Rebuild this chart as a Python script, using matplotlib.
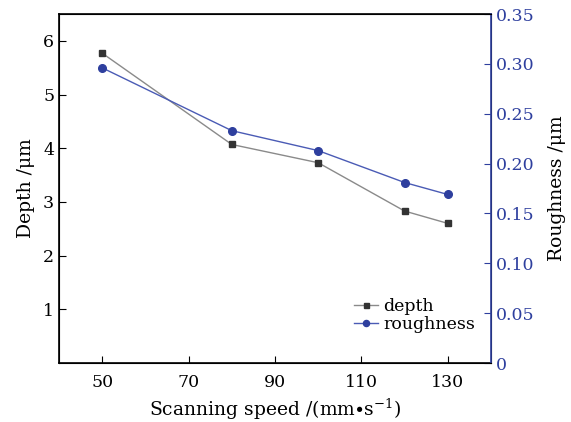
import matplotlib
matplotlib.use("Agg")
import matplotlib.pyplot as plt

speed = [50, 80, 100, 120, 130]
depth = [5.77, 4.07, 3.73, 2.83, 2.60]
roughness = [0.296, 0.233, 0.213, 0.181, 0.169]
xticks = [50, 70, 90, 110, 130]

plt.rcParams['font.family'] = ['DejaVu Serif']
plt.rcParams['mathtext.fontset'] = 'dejavuserif'

blue = '#2e3f9e'
fig = plt.figure(figsize=(5.71, 4.22), dpi=100)
ax = fig.add_axes([59/571, 1-363/422, (491-59)/571, (363-14)/422])
ax2 = ax.twinx()

l1, = ax.plot(speed, depth, color='#8a8a8a', lw=1.0, marker='s', ms=4.5,
              mfc='#333333', mec='#333333', label='depth')
l2, = ax2.plot(speed, roughness, color='#4a5bb5', lw=1.0, marker='o', ms=5.5,
               mfc=blue, mec=blue, label='roughness')

ax.set_xlim(40, 140)
ax.set_ylim(0, 6.5)
ax2.set_ylim(0, 0.35)
ax.set_xticks(xticks)
ax.set_yticks([1, 2, 3, 4, 5, 6])
ax2.set_yticks([0, 0.05, 0.10, 0.15, 0.20, 0.25, 0.30, 0.35])
ax2.set_yticklabels(['0', '0.05', '0.10', '0.15', '0.20', '0.25', '0.30', '0.35'])

ax.tick_params(axis='both', direction='in', labelsize=12.5, length=5)
ax.tick_params(axis='x', pad=8)
ax2.tick_params(axis='y', direction='in', labelsize=12.5, length=5, colors=blue)
ax2.spines['right'].set_color(blue)
ax2.spines['right'].set_linewidth(1.2)
for s in ['left', 'bottom', 'top']:
    ax.spines[s].set_linewidth(1.2)

ax.set_xlabel('Scanning speed /(mm$\\bullet$s$^{-1}$)', fontsize=13.5)
ax.set_ylabel('Depth /μm', fontsize=13.5, labelpad=6)
ax2.set_ylabel('Roughness /μm', fontsize=13.5, labelpad=10)

ax.legend([l1, l2], ['depth', 'roughness'], loc='lower right',
          bbox_to_anchor=(1.0, 0.04), frameon=False, fontsize=12.5,
          handlelength=1.4, handletextpad=0.3, labelspacing=0.1, markerscale=0.8)

fig.savefig('out.png', dpi=100)
